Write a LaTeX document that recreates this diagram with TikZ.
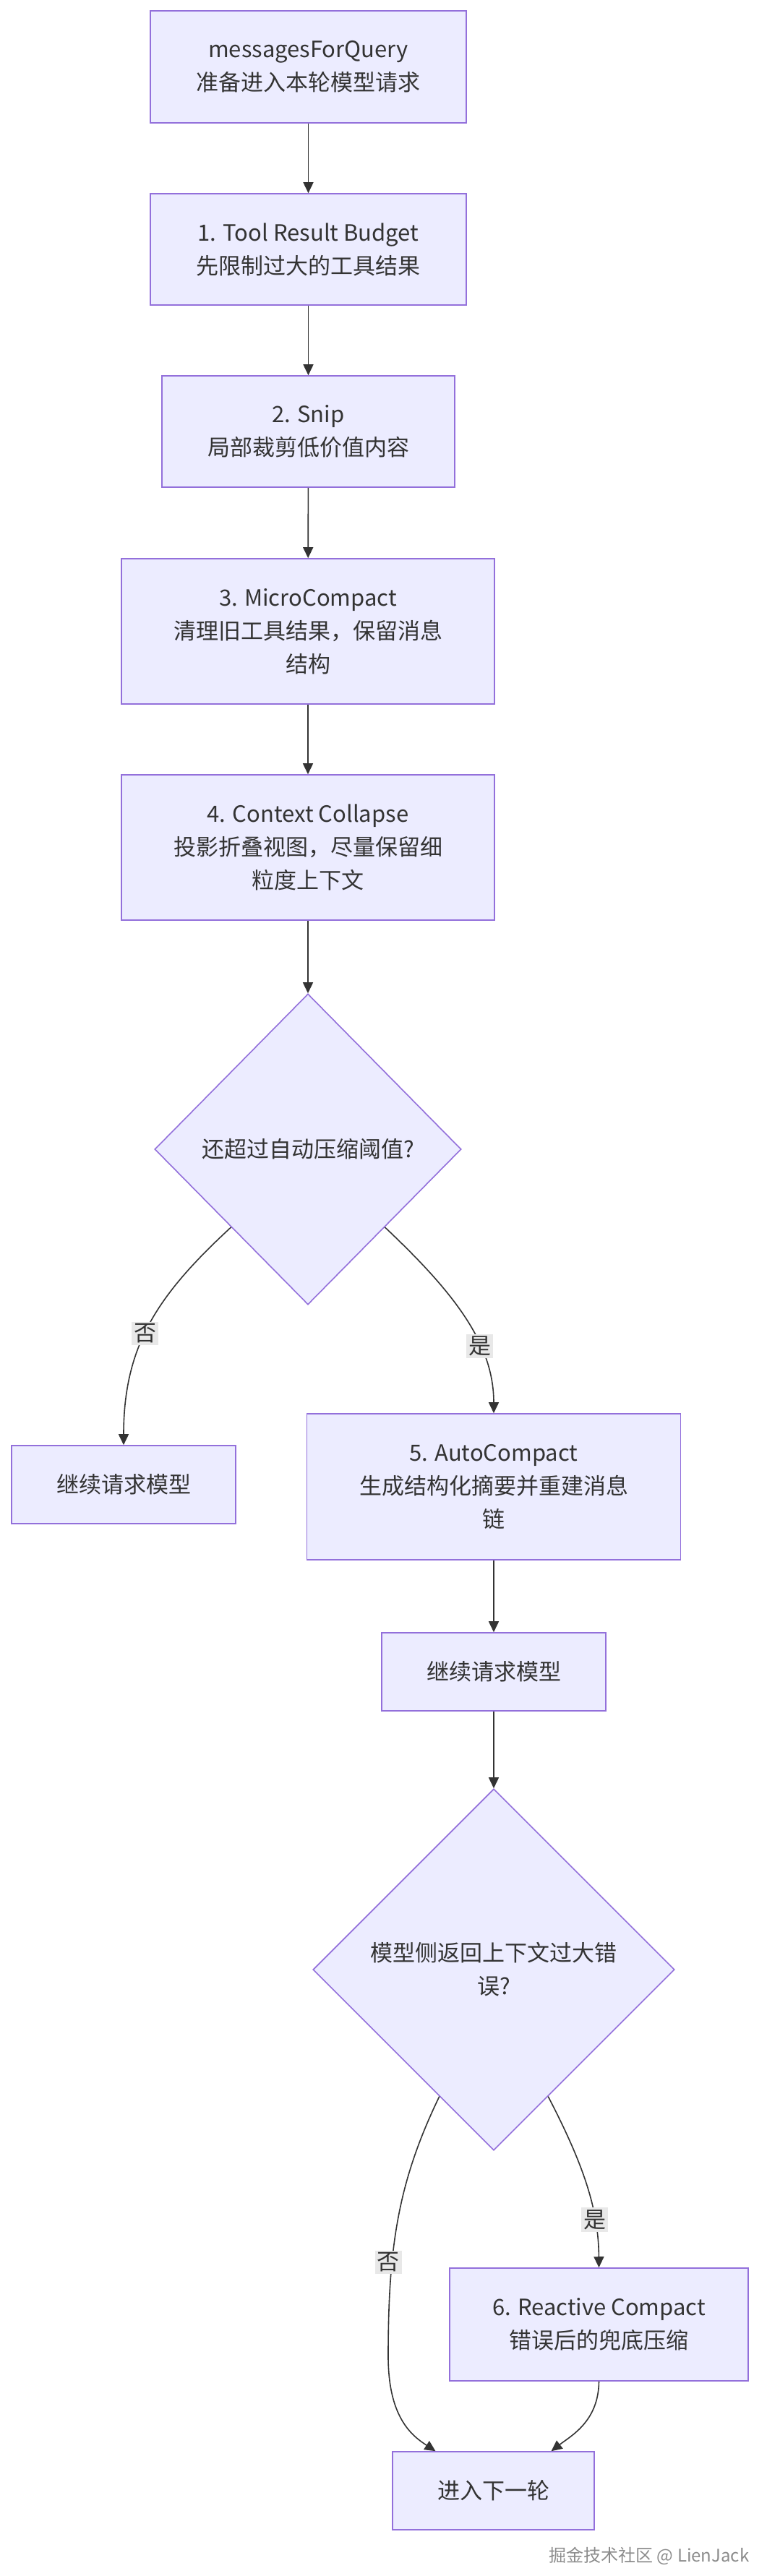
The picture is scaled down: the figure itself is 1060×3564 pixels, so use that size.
\documentclass[tikz,border=0pt]{standalone}
\usepackage{fontspec}
\setmainfont{Noto Sans CJK SC}
\usetikzlibrary{shapes.geometric,arrows.meta,calc}
\definecolor{nfill}{HTML}{ECECFF}
\definecolor{nline}{HTML}{9370DB}
\definecolor{eline}{HTML}{333333}
\definecolor{lbg}{HTML}{E8E8E8}
\begin{document}
\begin{tikzpicture}[x=1pt,y=-1pt,
  every node/.style={font=\fontsize{31}{46}\selectfont, text=eline},
  box/.style={draw=nline, fill=nfill, line width=1.6pt, align=center, inner sep=0pt},
  dia/.style={diamond, draw=nline, fill=nfill, line width=1.6pt, align=center, inner sep=0pt},
  arr/.style={draw=eline, line width=1.6pt, -{Triangle[length=15pt,width=14pt]}},
  lbl/.style={fill=lbg, inner sep=3pt}]
\useasboundingbox (0,0) rectangle (1060,3564);
\node[box, minimum width=437, minimum height=155] (b0) at (426.5,92.5) {messagesForQuery\\准备进入本轮模型请求};
\node[box, minimum width=437, minimum height=154] (b1) at (426.5,345) {1. Tool Result Budget\\先限制过大的工具结果};
\node[box, minimum width=405, minimum height=154] (b2) at (426.5,597) {2. Snip\\局部裁剪低价值内容};
\node[box, minimum width=516, minimum height=201] (b3) at (426,873.5) {3. MicroCompact\\清理旧工具结果，保留消息\\结构};
\node[box, minimum width=516, minimum height=201] (b4) at (426,1172.5) {4. Context Collapse\\投影折叠视图，尽量保留细\\粒度上下文};
\node[dia, minimum width=424, minimum height=430] (d1) at (426,1590) {还超过自动压缩阈值?};
\node[box, minimum width=310, minimum height=108] (c1) at (171,2054) {继续请求模型};
\node[box, minimum width=517, minimum height=202] (b5) at (683,2057) {5. AutoCompact\\生成结构化摘要并重建消息\\链};
\node[box, minimum width=310, minimum height=108] (c2) at (683,2313) {继续请求模型};
\node[dia, minimum width=500, minimum height=500] (d2) at (683,2725) {模型侧返回上下文过大错\\误?};
\node[box, minimum width=413, minimum height=156] (b6) at (828.5,3216) {6. Reactive Compact\\错误后的兜底压缩};
\node[box, minimum width=279, minimum height=108] (e) at (682.5,3446) {进入下一轮};
\node[anchor=east, font=\fontsize{24}{28}\selectfont, text=black!45] (wm) at (1040,3536) {掘金技术社区 @ LienJack};
\draw[arr] (b0) -- (b1);
\draw[arr] (b1) -- (b2);
\draw[arr] (b2) -- (b3);
\draw[arr] (b3) -- (b4);
\draw[arr] (b4) -- (d1);
\coordinate (d1l) at (d1.south west);
\coordinate (d1r) at (d1.south east);
\draw[arr] (d1l) .. controls (220,1790) and (171,1860) .. (c1.north) node[pos=0.55, lbl] {否};
\draw[arr] (d1r) .. controls (630,1790) and (683,1860) .. (b5.north) node[pos=0.65, lbl] {是};
\draw[arr] (b5) -- (c2);
\draw[arr] (c2) -- (d2);
\coordinate (d2r) at ($(d2.south)!0.3!(d2.east)$);
\coordinate (d2l) at ($(d2.south)!0.3!(d2.west)$);
\draw[arr] (d2l) .. controls (550,3020) and (537,3110) .. (537,3260) .. controls (537,3345) and (570,3370) .. ([xshift=-80pt]e.north);
\node[lbl] at (537,3130) {否};
\draw[arr] (d2r) .. controls (810,3000) and (828,3060) .. (b6.north) node[pos=0.7, lbl] {是};
\draw[arr] (b6.south) .. controls (828,3350) and (790,3370) .. ([xshift=80pt]e.north);
\end{tikzpicture}
\end{document}
